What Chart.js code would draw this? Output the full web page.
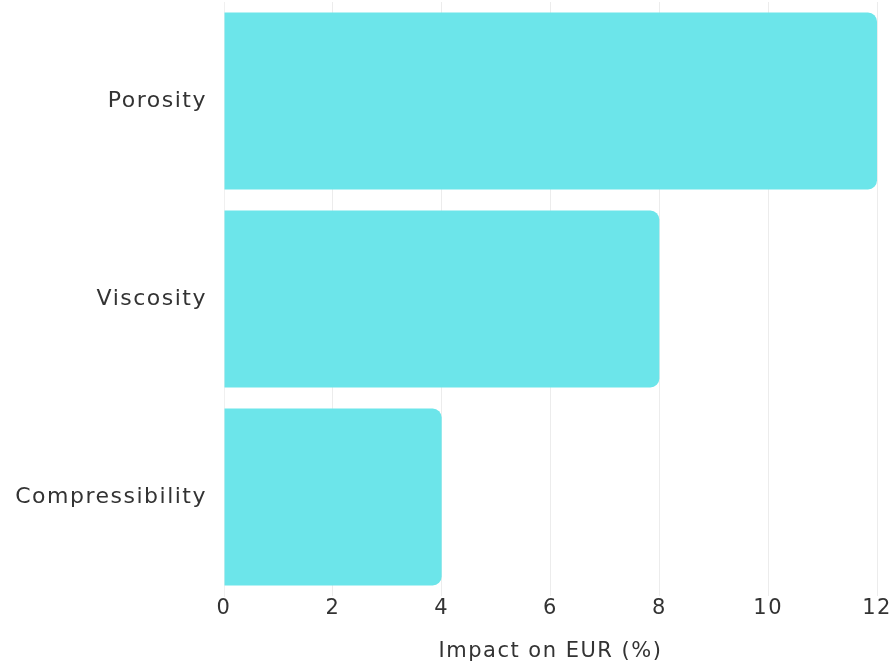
<!DOCTYPE html>
<html>
<head>
<meta charset="utf-8">
<script src="https://cdn.jsdelivr.net/npm/chart.js@4.4.0/dist/chart.umd.min.js"></script>
<style>
  html, body { margin: 0; padding: 0; background: #ffffff; }
  #wrap { width: 894px; height: 664px; }
</style>
</head>
<body>
<div id="wrap"><canvas id="eurChart" width="894" height="664"></canvas></div>
<script>
    // data
    const categories = ['Porosity', 'Viscosity', 'Compressibility'];
    const impactValues = [12, 8, 4];
    const xTicks = [0, 2, 4, 6, 8, 10, 12];
    const xTitle = 'Impact on EUR (%)';

    const fontFamily = "'DejaVu Sans', sans-serif";

    // the original font is wider, so open the letters up a bit
    const letterSpacingPlugin = {
        id: 'letterSpacing',
        beforeDraw: function (chart) {
            chart.ctx.letterSpacing = '1.5px';
        }
    };

    const ctx = document.getElementById('eurChart');
    if (ctx) {
        new Chart(ctx.getContext('2d'), {
            type: 'bar',
            data: {
                labels: categories,
                datasets: [{
                    data: impactValues,
                    backgroundColor: '#6ce5ea',
                    borderWidth: 0,
                    borderRadius: { topRight: 9, bottomRight: 9, topLeft: 0, bottomLeft: 0 },
                    borderSkipped: 'start',
                    categoryPercentage: 0.893,
                    barPercentage: 1.0
                }]
            },
            options: {
                indexAxis: 'y',
                responsive: false,
                animation: false,
                layout: { padding: { top: 2, right: 17, left: 0, bottom: 0 } },
                scales: {
                    x: {
                        min: 0,
                        max: 12,
                        afterBuildTicks: function (axis) {
                            axis.ticks = xTicks.map(v => ({ value: v }));
                        },
                        afterFit: function (axis) {
                            axis.height = 68;
                            axis.paddingLeft = 0;
                            axis.paddingRight = 0;
                        },
                        grid: {
                            color: '#ececec',
                            drawTicks: false,
                            lineWidth: 1
                        },
                        border: { display: false },
                        ticks: {
                            color: '#333333',
                            padding: 0,
                            font: { family: fontFamily, size: 21 }
                        },
                        title: {
                            display: true,
                            text: xTitle,
                            color: '#333333',
                            padding: { top: 12, bottom: 0 },
                            font: { family: fontFamily, size: 21 }
                        }
                    },
                    y: {
                        afterFit: function (axis) {
                            axis.width = 224;
                            axis.paddingTop = 0;
                            axis.paddingBottom = 0;
                        },
                        grid: { display: false, drawTicks: false },
                        border: { display: true, color: '#f0f0f0' },
                        ticks: {
                            color: '#333333',
                            padding: 17,
                            font: { family: fontFamily, size: 22 }
                        }
                    }
                },
                plugins: {
                    legend: { display: false },
                    tooltip: { enabled: false }
                }
            },
            plugins: [letterSpacingPlugin]
        });
    }
</script>
</body>
</html>
